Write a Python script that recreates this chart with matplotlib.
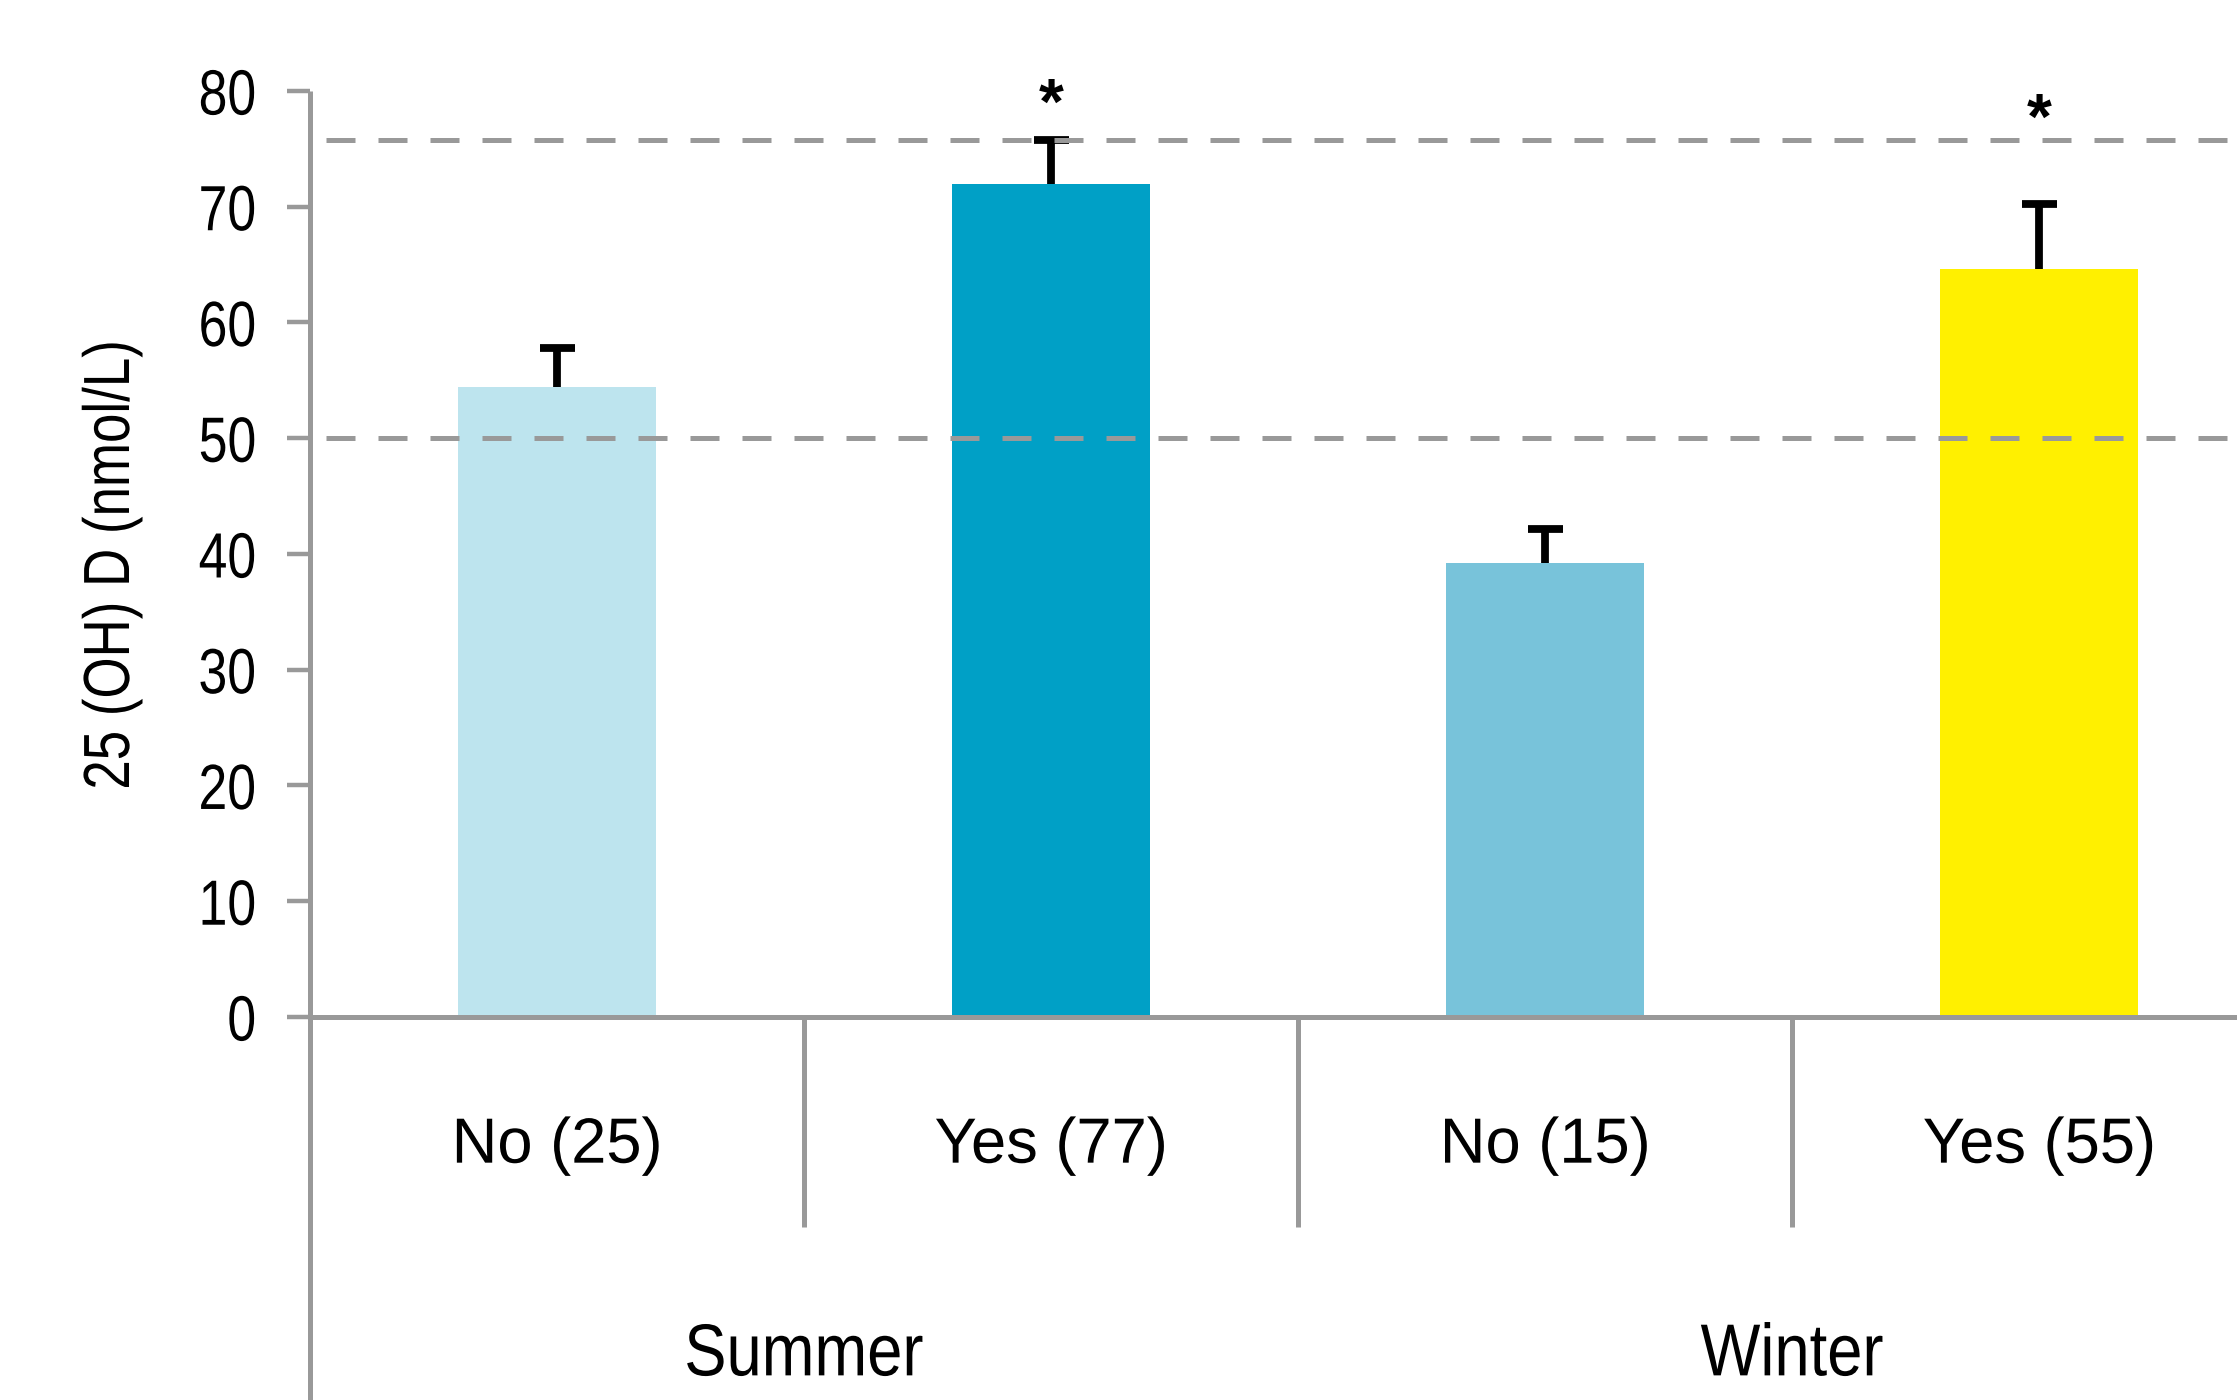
import matplotlib.pyplot as plt
import matplotlib.transforms as mtransforms
from matplotlib.patheffects import AbstractPathEffect

# 25(OH)D by season and supplement use
groups = ['Summer', 'Winter']
categories = ['No (25)', 'Yes (77)', 'No (15)', 'Yes (55)']
means = [54.4, 72.0, 39.2, 64.6]
errors = [3.4, 3.8, 3.0, 5.6]
colors = ['#BDE4EE', '#00A0C6', '#78C3DA', '#FFF000']
ref_lines = [50, 75.8]
stars = [(1, 78.6), (3, 77.3)]

GREY = '#999999'


class Squeeze(AbstractPathEffect):
    """Narrow the text glyphs along one display axis (condensed look)."""

    def __init__(self, factor, axis='x', anchor='center'):
        super().__init__()
        self.factor = factor
        self.axis = axis
        self.anchor = anchor

    def draw_path(self, renderer, gc, tpath, affine, rgbFace=None):
        pts = affine.transform(tpath.vertices)
        if len(pts) == 0:
            return
        i = 0 if self.axis == 'x' else 1
        lo, hi = pts[:, i].min(), pts[:, i].max()
        c = {'center': (lo + hi) / 2, 'right': hi, 'left': lo}[self.anchor]
        if self.axis == 'x':
            t = mtransforms.Affine2D().translate(-c, 0).scale(self.factor, 1).translate(c, 0)
        else:
            t = mtransforms.Affine2D().translate(0, -c).scale(1, self.factor).translate(0, c)
        renderer.draw_path(gc, tpath, affine + t, rgbFace)


plt.rcParams['font.family'] = ['Liberation Sans', 'DejaVu Sans']

fig = plt.figure(figsize=(22.37, 14), dpi=100)
ax = fig.add_axes([0.1386, 0.2736, 0.8834, 0.6614])

x = list(range(len(categories)))
ax.bar(x, means, width=0.4, color=colors, zorder=2)

eb = ax.errorbar(x, means, yerr=[[0] * len(errors), errors], fmt='none',
                 ecolor='black', elinewidth=5.6, capsize=12.6, capthick=5.6, zorder=3)
eb[1][0].set_visible(False)  # only the upper caps

for y in ref_lines:
    ax.axhline(y, xmin=0.008, color=GREY, lw=3.6, linestyle=(0, (5.8, 4.6)), zorder=4)

for xi, ys in stars:
    ax.text(xi, ys, '*', ha='center', va='center', fontsize=46, fontweight='bold')

ax.set_xlim(-0.5, 3.5)
ax.set_ylim(0, 80)
ax.set_yticks(range(0, 81, 10))
ax.set_xticks([])
for s in ax.spines.values():
    s.set_visible(False)
ax.tick_params(axis='y', length=16.5, width=3.2, color=GREY, labelsize=46, pad=22)
for lab in ax.get_yticklabels():
    lab.set_path_effects([Squeeze(0.81, 'x', 'right')])

trans = mtransforms.blended_transform_factory(ax.transData, ax.transAxes)
# axis lines
ax.plot([-0.5, -0.5], [1.0, -0.45], transform=trans, color=GREY, lw=3.6,
        clip_on=False, solid_capstyle='butt')
ax.plot([-0.5, 3.5], [0, 0], transform=trans, color=GREY, lw=3.6, clip_on=False)
for xs in [0.5, 1.5, 2.5, 3.5]:
    ax.plot([xs, xs], [0, -0.227], transform=trans, color=GREY, lw=3.6,
            clip_on=False, solid_capstyle='butt')

for xi, lab in zip(x, categories):
    ax.text(xi, -0.139, lab, transform=trans, ha='center', va='center', fontsize=46,
            path_effects=[Squeeze(0.99)])
for gi, g in enumerate(groups):
    ax.text(2 * gi + 0.5, -0.366, g, transform=trans, ha='center', va='center',
            fontsize=53, path_effects=[Squeeze(0.86)])

fig.text(112 / 2237, 1 - 565 / 1400, '25 (OH) D (nmol/L)', rotation=90,
         ha='center', va='center', fontsize=47, path_effects=[Squeeze(0.81, 'y')])

fig.savefig('out.png', dpi=100)
